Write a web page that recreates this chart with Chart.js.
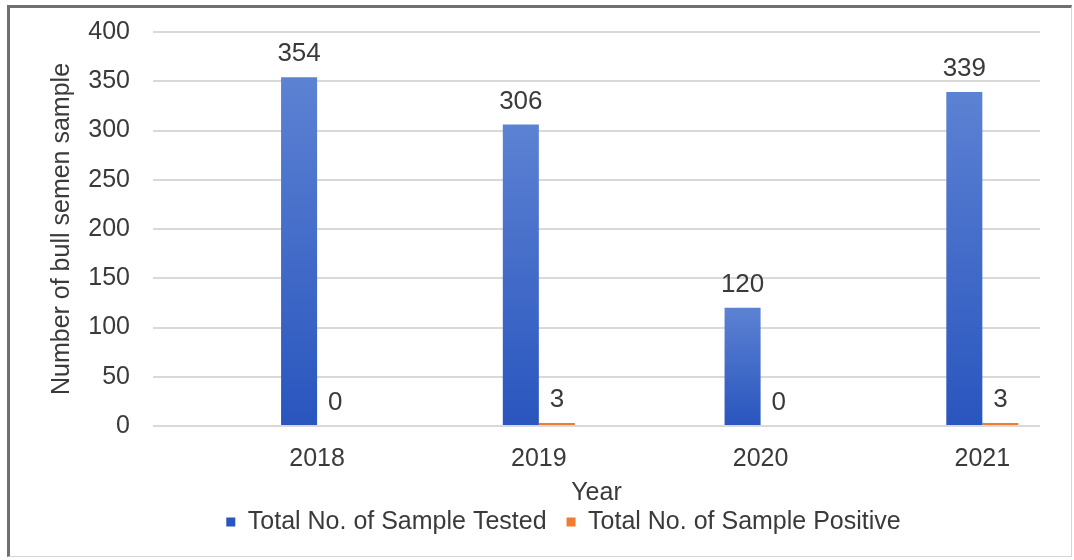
<!DOCTYPE html>
<html>
<head>
<meta charset="utf-8">
<script src="https://cdn.jsdelivr.net/npm/chart.js@4/dist/chart.umd.min.js"></script>
<style>
  html, body { margin: 0; padding: 0; background: #fff; }
  #wrap { position: relative; width: 1074px; height: 560px; overflow: hidden; }
  #wrap canvas { position: absolute; left: 0; top: 0; }
  /* grey picture frame round the chart */
  #frame { position: absolute; left: 7px; top: 5px; right: 2px; bottom: 3px;
           border-left: 3px solid #707070; border-top: 3px solid #707070;
           border-right: 1px solid #d6d6d6; border-bottom: 1px solid #d6d6d6;
           pointer-events: none; }
</style>
</head>
<body>
<div id="wrap">
  <canvas id="chart" width="1074" height="560"></canvas>
  <div id="frame"></div>
</div>
<script>
/* bull semen samples tested vs positive, by year */
var years = [2018, 2019, 2020, 2021];
var tested = [354, 306, 120, 339];
var positive = [0, 3, 0, 3];
var yTicks = [0, 50, 100, 150, 200, 250, 300, 350, 400];

var FONT = '"Liberation Sans", Arial, sans-serif';
var TEXT = '#3a3a3a';
var BLUE = '#3f69c6';
var ORANGE = '#ed7d31';

function points(values) {
  return years.map(function (yr, i) { return { x: yr, y: values[i] }; });
}

/* Excel-style shaded bar: lighter at its top, deeper at the base */
function blueFill(ctx) {
  var chart = ctx.chart;
  if (ctx.type !== 'data' || !chart.chartArea) return BLUE;
  var ys = chart.scales.y;
  var g = chart.ctx.createLinearGradient(0, ys.getPixelForValue(ctx.raw.y), 0, ys.getPixelForValue(0));
  g.addColorStop(0, '#5c82d3');
  g.addColorStop(1, '#2955be');
  return g;
}

/* value labels above every bar */
var barLabels = {
  id: 'barLabels',
  afterDatasetsDraw: function (chart) {
    var ctx = chart.ctx;
    ctx.save();
    ctx.font = '26px ' + FONT;
    ctx.fillStyle = TEXT;
    ctx.textAlign = 'center';
    ctx.textBaseline = 'alphabetic';
    chart.data.datasets.forEach(function (ds, di) {
      chart.getDatasetMeta(di).data.forEach(function (bar, i) {
        ctx.fillText(String(ds.data[i].y), bar.x, bar.y - 16);
      });
    });
    ctx.restore();
  }
};

new Chart(document.getElementById('chart').getContext('2d'), {
  type: 'bar',
  data: {
    datasets: [
      { label: 'Total No. of Sample Tested', data: points(tested),
        backgroundColor: blueFill, categoryPercentage: 0.325, barPercentage: 1 },
      { label: 'Total No. of Sample Positive', data: points(positive),
        backgroundColor: ORANGE, categoryPercentage: 0.325, barPercentage: 1 }
    ]
  },
  plugins: [barLabels],
  options: {
    responsive: false,
    animation: false,
    layout: { padding: { left: 87, right: 34, top: 32, bottom: 15.5 } },
    plugins: {
      tooltip: { enabled: false },
      legend: {
        position: 'bottom',
        labels: { color: TEXT, font: { family: FONT, size: 25 },
                  boxWidth: 9, boxHeight: 9, padding: 20 }
      }
    },
    scales: {
      x: {
        type: 'linear',
        offset: false,
        min: 2017.26, max: 2021.26,
        afterBuildTicks: function (s) { s.ticks = years.map(function (v) { return { value: v }; }); },
        afterFit: function (s) { s.height = 63.5; },
        grid: { display: false, drawTicks: false },
        border: { display: false },
        ticks: { color: TEXT, font: { family: FONT, size: 25 }, padding: 18,
                 callback: function (v) { return String(v); } },
        title: { display: true, text: 'Year', color: TEXT,
                 font: { family: FONT, size: 25 }, padding: { top: 0, bottom: -19 } }
      },
      y: {
        min: 0, max: 400,
        afterBuildTicks: function (s) { s.ticks = yTicks.map(function (v) { return { value: v }; }); },
        afterFit: function (s) { s.width = 66; s.paddingTop = 0; s.paddingBottom = 0; },
        grid: { color: '#d9d9d9', lineWidth: 2, drawTicks: false },
        border: { display: false },
        ticks: { color: TEXT, font: { family: FONT, size: 25 }, padding: 23 },
        title: { display: true, text: 'Number of bull semen sample', color: TEXT,
                 font: { family: FONT, size: 25 }, padding: { top: -40, bottom: 0 } }
      }
    }
  }
});
</script>
</body>
</html>
